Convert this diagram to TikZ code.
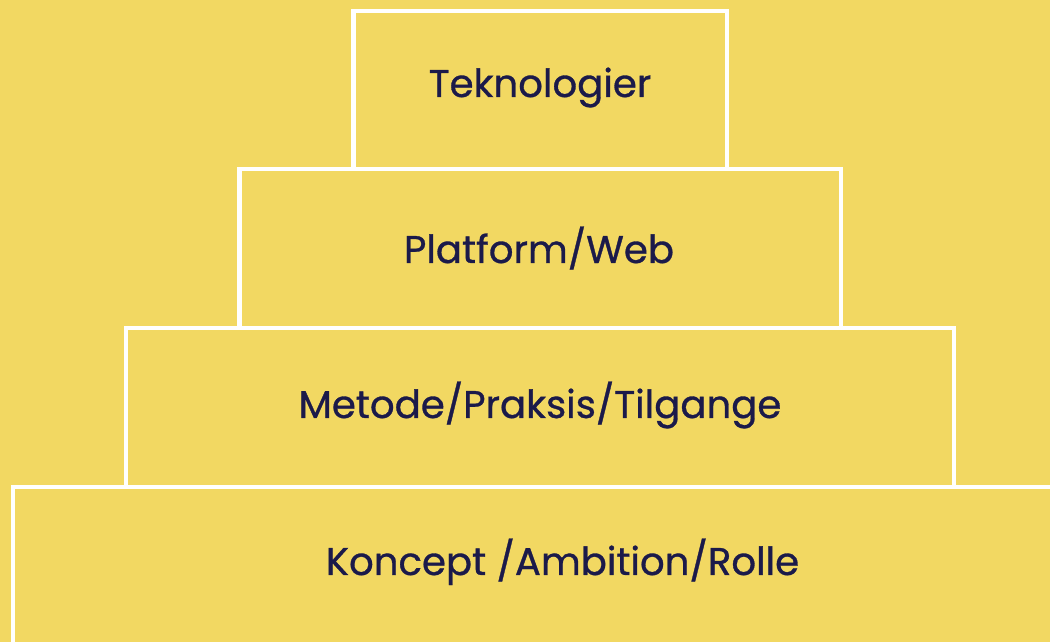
\documentclass[tikz,border=0pt]{standalone}
\usepackage{fontspec}
\setmainfont{Poppins}[FakeBold=0.8]
\usepackage{tikz}

\definecolor{sand}{HTML}{F2D862}
\definecolor{ink}{HTML}{1B1A4A}

\tikzset{
    tier/.style={draw=white, line width=2.3pt},
    label/.style={text=ink, font=\fontsize{22}{26}\selectfont, anchor=base}
}

\begin{document}
\begin{tikzpicture}
            \clip (0,0) rectangle (21,12.84);
            \fill[sand] (0,0) rectangle (21,12.84);

            % pyramid layers, bottom one runs off the page
            \draw[tier] (0.26,-1) rectangle (22,3.1);
            \draw[tier] (2.52,3.1) rectangle (19.08,6.28);
            \draw[tier] (4.79,6.28) rectangle (16.82,9.46);
            \draw[tier] (7.07,9.46) rectangle (14.54,12.62);

            \node[label] (koncept) at (11.25,1.34) {Koncept /Ambition/Rolle};
            \node[label] (metode) at (10.8,4.48) {Metode/Praksis/Tilgange};
            \node[label] (platform) at (10.78,7.58) {Platform/Web};
            \node[label] (tekno) at (10.8,10.9) {Teknologier};
        \end{tikzpicture}
\end{document}
